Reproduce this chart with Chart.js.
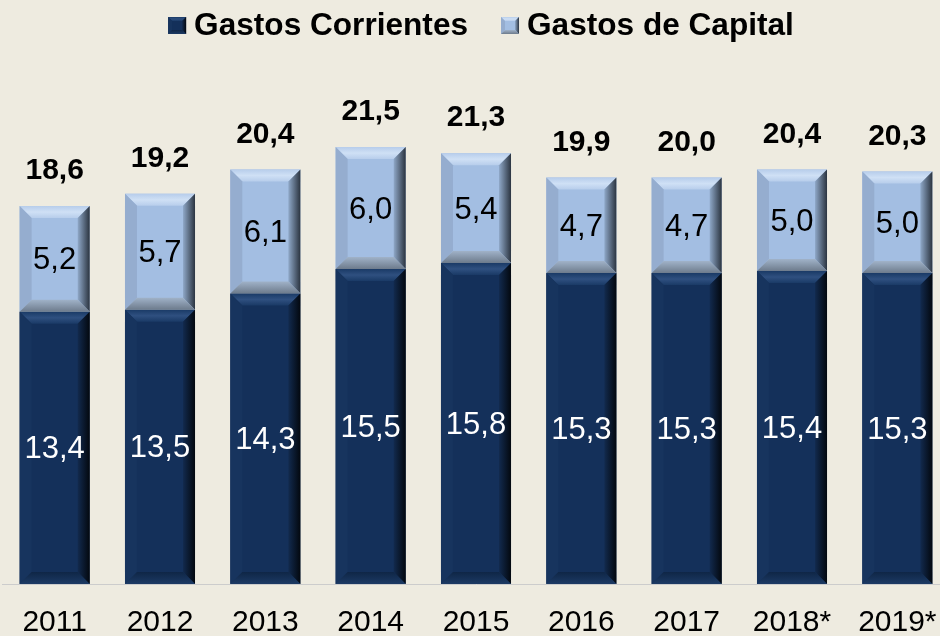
<!DOCTYPE html>
<html>
<head>
<meta charset="utf-8">
<script src="https://cdn.jsdelivr.net/npm/chart.js@4"></script>
<style>
  html, body { margin: 0; padding: 0; background: #eeebe0; overflow: hidden; }
  #wrap { width: 952px; height: 636px; }
</style>
</head>
<body>
<div id="wrap"><canvas id="chart" width="952" height="636"></canvas></div>
<script>
// ── Data ──────────────────────────────────
const years      = ['2011', '2012', '2013', '2014', '2015', '2016', '2017', '2018*', '2019*'];
const corrientes = [13.4, 13.5, 14.3, 15.5, 15.8, 15.3, 15.3, 15.4, 15.3];
const capital    = [5.2, 5.7, 6.1, 6.0, 5.4, 4.7, 4.7, 5.0, 5.0];
const totales    = [18.6, 19.2, 20.4, 21.5, 21.3, 19.9, 20.0, 20.4, 20.3];

const FONT = "'Liberation Sans', Arial, sans-serif";
const fmt = (v) => v.toFixed(1).replace('.', ',');

// bevel colours per dataset (top, left, right, bottom)
const BEVEL = [
  { top: ['#1a3a66', '#2f5080'], left: '#17345e', right: ['#122a4e', '#03080f'], bottom: ['#0f2646', '#1c3a64'] },
  { top: ['#b7cdeb', '#cfe0f5'], left: '#95adcf', right: ['#8fa8c8', '#2b3440'], bottom: ['#a0b2c8', '#6d7b8c'] },
];

function poly(ctx, pts, fill) {
  ctx.beginPath();
  ctx.moveTo(pts[0][0], pts[0][1]);
  for (let i = 1; i < pts.length; i++) ctx.lineTo(pts[i][0], pts[i][1]);
  ctx.closePath();
  ctx.fillStyle = fill;
  ctx.fill();
}

function drawBevel(ctx, c, l, t, r, b, s) {
  let g = ctx.createLinearGradient(0, t, 0, t + s);
  g.addColorStop(0, c.top[0]); g.addColorStop(0.5, c.top[1]); g.addColorStop(1, c.top[0]);
  poly(ctx, [[l, t], [r, t], [r - s, t + s], [l + s, t + s]], g);
  poly(ctx, [[l, t], [l + s, t + s], [l + s, b - s], [l, b]], c.left);
  g = ctx.createLinearGradient(r - s, 0, r, 0);
  g.addColorStop(0, c.right[0]); g.addColorStop(1, c.right[1]);
  poly(ctx, [[r, t], [r - s, t + s], [r - s, b - s], [r, b]], g);
  g = ctx.createLinearGradient(0, b - s, 0, b);
  g.addColorStop(0, c.bottom[0]); g.addColorStop(1, c.bottom[1]);
  poly(ctx, [[l, b], [r, b], [r - s, b - s], [l + s, b - s]], g);
}

// ── Plugins ───────────────────────────────

const bevelPlugin = {
  id: 'bevel',
  afterDatasetsDraw(chart) {
    const ctx = chart.ctx;
    chart.data.datasets.forEach((ds, di) => {
      chart.getDatasetMeta(di).data.forEach((el) => {
        const l = el.x - el.width / 2, r = el.x + el.width / 2;
        const t = Math.min(el.y, el.base), b = Math.max(el.y, el.base);
        ctx.save();
        drawBevel(ctx, BEVEL[di], l, t, r, b, Math.min(12, (b - t) / 3));
        ctx.restore();
      });
    });
  },
};

// legend drawn by hand: small bevelled box, tight gap, centred over the plot
const topLegend = {
  id: 'topLegend',
  afterDraw(chart) {
    const ctx = chart.ctx;
    const box = 18, gap = 8, itemGap = 33, cy = 25.5;
    ctx.save();
    ctx.font = `bold 31.6px ${FONT}`;
    ctx.textBaseline = 'middle';
    ctx.textAlign = 'left';
    const items = chart.data.datasets.map((ds, i) => ({
      text: ds.label, color: ds.backgroundColor, bevel: BEVEL[i],
      w: box + gap + ctx.measureText(ds.label).width,
    }));
    const total = items.reduce((a, it) => a + it.w, 0) + itemGap * (items.length - 1);
    let x = 481 - total / 2;
    items.forEach((it) => {
      const t = cy - 8.5;
      ctx.fillStyle = it.color;
      ctx.fillRect(x, t, box, 17);
      drawBevel(ctx, it.bevel, x, t, x + box, t + 17, 4);
      ctx.fillStyle = '#000000';
      ctx.fillText(it.text, x + box + gap, cy + 1);
      x += it.w + itemGap;
    });
    ctx.restore();
  },
};

const valueLabels = {
  id: 'valueLabels',
  afterDraw(chart) {
    const ctx = chart.ctx;
    ctx.save();
    ctx.textAlign = 'center';
    ctx.textBaseline = 'middle';
    chart.data.datasets.forEach((ds, di) => {
      ctx.font = `31px ${FONT}`;
      ctx.fillStyle = di === 0 ? '#ffffff' : '#000000';
      chart.getDatasetMeta(di).data.forEach((el, i) => {
        ctx.fillText(fmt(ds.data[i]), el.x, (el.y + el.base) / 2 + 2);
      });
    });
    ctx.font = `bold 30px ${FONT}`;
    ctx.fillStyle = '#000000';
    chart.getDatasetMeta(1).data.forEach((el, i) => {
      ctx.fillText(fmt(totales[i]), el.x, el.y - 35);
    });
    ctx.restore();
  },
};

// ── Chart ─────────────────────────────────

new Chart(document.getElementById('chart'), {
  type: 'bar',
  data: {
    labels: years,
    datasets: [
      { label: 'Gastos Corrientes', data: corrientes, backgroundColor: '#14305a', borderWidth: 0 },
      { label: 'Gastos de Capital', data: capital, backgroundColor: '#a3bee2', borderWidth: 0 },
    ],
  },
  options: {
    responsive: false,
    animation: false,
    barPercentage: 0.665,
    categoryPercentage: 1,
    layout: { autoPadding: false, padding: { left: 2, right: 2, top: 76, bottom: 0 } },
    plugins: {
      legend: { display: false },
      tooltip: { enabled: false },
    },
    scales: {
      x: {
        stacked: true,
        grid: { display: false, drawTicks: false },
        border: { display: true, color: '#cccccc', width: 1 },
        // tall line height pushes the single-line labels down without side padding
        ticks: { color: '#000000', font: { family: FONT, size: 30, lineHeight: 2.6 }, padding: 0 },
        afterFit(scale) { scale.height = 52; },
      },
      y: {
        stacked: true,
        display: false,
        min: 0,
        max: 25,
      },
    },
  },
  plugins: [bevelPlugin, valueLabels, topLegend],
});
</script>
</body>
</html>
